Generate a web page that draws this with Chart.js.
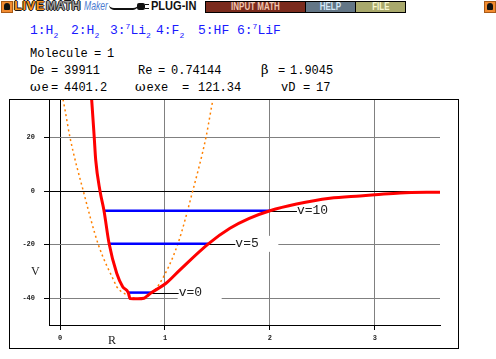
<!DOCTYPE html>
<html>
<head>
<meta charset="utf-8">
<script src="https://cdn.jsdelivr.net/npm/chart.js@4.4.1/dist/chart.umd.min.js"></script>
<style>
body{margin:0;background:#fff;width:496px;height:359px;position:relative;overflow:hidden;}
.t{position:absolute;white-space:nowrap;font-family:"Liberation Mono",monospace;font-size:12px;line-height:12px;color:#000;}
.t .g{font-family:"DejaVu Serif",serif;font-size:13px;line-height:0;margin-right:1px;}
.b{color:#1a1aff;font-size:13px;line-height:13px;}
.b sub,.b sup{font-size:8px;line-height:0;}
.hd{position:absolute;top:-1px;font-family:"Liberation Sans",Arial,sans-serif;font-weight:bold;font-size:13px;line-height:13px;white-space:nowrap;transform-origin:left top;}
.ol{text-shadow:-1px 0 #1a1a1a,1px 0 #1a1a1a,0 -1px #1a1a1a,0 1px #1a1a1a;}
.btn{position:absolute;top:1px;height:10px;border:1px solid #000;font-family:"Liberation Sans",Arial,sans-serif;font-weight:bold;font-size:10px;line-height:10px;text-align:center;overflow:hidden;}
.btn span{display:inline-block;transform:scaleX(0.8);}
.ico{position:absolute;top:1px;width:10px;height:10px;background:#f28b30;border:1px solid #a85a18;}
.ico:after{content:"";position:absolute;left:2px;top:1px;width:6px;height:7px;background:#111;border-radius:3px 3px 1px 1px;}
#box{position:absolute;left:9px;top:99px;width:448px;height:248px;border:1px solid #000;}
.ax{position:absolute;font-family:"Liberation Serif",serif;font-size:12px;line-height:12px;color:#222;}
</style>
</head>
<body>
<!-- plug-in toolbar -->
<div class="ico" style="left:1px"></div>
<span class="hd ol" style="left:14px;letter-spacing:0.5px;color:#f7941e">LIVE</span>
<span class="hd ol" style="left:46px;color:#9c9c9c;transform:scaleX(0.94)">MATH</span>
<span class="hd" style="left:84px;font-weight:normal;font-style:italic;color:#4b7bd0;transform:scaleX(0.66)">Maker</span>
<div style="position:absolute;left:109px;top:5px;width:29px;height:3px;border-bottom:2px solid #111;border-radius:0 0 12px 12px"></div>
<div style="position:absolute;left:137px;top:3px;width:8px;height:7px;background:#111;border-radius:2px"></div>
<div style="position:absolute;left:145px;top:4px;width:4px;height:1px;background:#111"></div>
<div style="position:absolute;left:145px;top:8px;width:4px;height:1px;background:#111"></div>
<span class="hd" style="left:151px;color:#111;transform:scaleX(0.85)">PLUG-IN</span>
<div class="btn" style="left:205px;width:99px;background:#7b2b1d;color:#f0c6b0"><span>INPUT MATH</span></div>
<div class="btn" style="left:305px;width:49px;background:#637686;color:#d4e6f6"><span>HELP</span></div>
<div class="btn" style="left:355px;width:49px;background:#a9a96c;color:#f6f6cc"><span>FILE</span></div>
<div class="ico" style="left:484px"></div>

<!-- molecule picker and constants -->
<span class="t b" style="left:30px;top:24px">1:H<sub>2</sub></span>
<span class="t b" style="left:71px;top:24px">2:H<sub>2</sub></span>
<span class="t b" style="left:110px;top:24px">3:<sup>7</sup>Li<sub>2</sub></span>
<span class="t b" style="left:156px;top:24px">4:F<sub>2</sub></span>
<span class="t b" style="left:198px;top:24px">5:HF</span>
<span class="t b" style="left:237px;top:24px">6:<sup>7</sup>LiF</span>

<span class="t" style="left:30px;top:48px">Molecule</span>
<span class="t" style="left:94px;top:48px">=</span>
<span class="t" style="left:107px;top:48px">1</span>

<span class="t" style="left:30px;top:65px">De</span>
<span class="t" style="left:51px;top:65px">=</span>
<span class="t" style="left:64px;top:65px">39911</span>
<span class="t" style="left:138px;top:65px">Re</span>
<span class="t" style="left:158px;top:65px">=</span>
<span class="t" style="left:171px;top:65px">0.74144</span>
<span class="t" style="left:261px;top:65px"><span class="g">β</span></span>
<span class="t" style="left:278px;top:65px">=</span>
<span class="t" style="left:290px;top:65px">1.9045</span>

<span class="t" style="left:30px;top:82px"><span class="g">ω</span>e</span>
<span class="t" style="left:51px;top:82px">=</span>
<span class="t" style="left:64px;top:82px">4401.2</span>
<span class="t" style="left:135px;top:82px"><span class="g">ω</span>exe</span>
<span class="t" style="left:182px;top:82px">=</span>
<span class="t" style="left:198px;top:82px">121.34</span>
<span class="t" style="left:281px;top:82px">vD</span>
<span class="t" style="left:303px;top:82px">=</span>
<span class="t" style="left:316px;top:82px">17</span>

<div id="box"><canvas id="pot" width="448" height="248"></canvas></div>
<span class="ax" style="left:31px;top:265px">V</span>
<span class="ax" style="left:108px;top:334px">R</span>

<script>
// potential curve (R in angstrom, V in 1000 cm-1)
const redR = [0.296, 0.302, 0.326, 0.340, 0.381, 0.419, 0.467, 0.540, 0.597, 0.650, 0.667, 0.740, 0.800, 0.825, 0.873, 1.010, 1.143, 1.413, 1.619, 1.803, 2.000, 2.254, 2.571, 2.857, 3.000, 3.240, 3.620];
const redV = [37, 33.9, 20, 11.6, 0, -7.35, -19.5, -30.7, -35.7, -37.9, -40.1, -40.2, -40.0, -39.3, -37.9, -34.4, -29.4, -19.7, -13.9, -10.2, -7.35, -4.85, -2.7, -1.8, -1.4, -0.7, -0.4];

// harmonic approximation (dotted)
const harmR = [0.020, 0.048, 0.095, 0.222, 0.365, 0.524, 0.540, 0.640, 0.744, 0.850, 0.952, 1.120, 1.264, 1.390, 1.438, 1.465];
const harmV = [36, 30.2, 20, 0, -20, -34.4, -35.7, -38.8, -40.2, -38.8, -34.3, -20, 0, 20, 30.2, 36];

// vibrational levels
const levelV = [0, 5, 10];
const levelE = [-37.9, -19.7, -7.35];
const levelR1 = [0.650, 0.467, 0.419];
const levelR2 = [0.873, 1.413, 2.000];

const xTicks = [0, 1, 2, 3];
const yTicks = [-40, -20, 0, 20];

function toPoints(xs, ys) {
    return xs.map(function(x, i) { return {x: x, y: ys[i]}; });
}

let datasets = [];
datasets.push({
    label: 'V(R)',
    data: toPoints(redR, redV),
    borderColor: '#ff0000',
    borderWidth: 3,
    pointRadius: 0,
    cubicInterpolationMode: 'monotone'
});
for (let i = 0; i < levelV.length; i++) {
    datasets.push({
        label: 'v=' + levelV[i],
        data: toPoints([levelR1[i], levelR2[i]], [levelE[i], levelE[i]]),
        borderColor: '#0000ff',
        borderWidth: 2.5,
        pointRadius: 0
    });
}
datasets.push({
    label: 'harmonic',
    data: toPoints(harmR, harmV),
    borderColor: '#ff8000',
    borderWidth: 1.5,
    borderDash: [2, 3],
    pointRadius: 0,
    cubicInterpolationMode: 'monotone'
});

// "v=n" tags at the right end of each level
const levelLabels = {
    id: 'levelLabels',
    beforeDatasetsDraw(chart) {
        const ctx = chart.ctx;
        const xs = chart.scales.x, ys = chart.scales.y;
        ctx.save();
        ctx.font = '13px "Liberation Mono"';
        ctx.textBaseline = 'middle';
        for (let i = 0; i < levelV.length; i++) {
            const x0 = xs.getPixelForValue(levelR2[i]);
            const y0 = ys.getPixelForValue(levelE[i]);
            const tx = x0 + 27;
            ctx.fillStyle = '#fff';
            ctx.fillRect(tx - 1, y0 - 8, 44, 16);
            ctx.strokeStyle = '#000';
            ctx.lineWidth = 1;
            ctx.beginPath();
            ctx.moveTo(x0, Math.round(y0) + 0.5);
            ctx.lineTo(tx, Math.round(y0) + 0.5);
            ctx.stroke();
            ctx.fillStyle = '#222';
            ctx.fillText('v=' + levelV[i], tx, y0);
        }
        ctx.restore();
    }
};

function gridColor(c) {
    return c.tick && c.tick.value === 0 ? '#000' : '#808080';
}
const tickFont = {family: 'Liberation Mono', size: 7, weight: 'bold'};

new Chart(document.getElementById('pot'), {
    type: 'line',
    data: {datasets: datasets},
    options: {
        responsive: false,
        animation: false,
        layout: {padding: {left: 0, right: 18, top: 0, bottom: 0}},
        plugins: {legend: {display: false}, tooltip: {enabled: false}},
        scales: {
            x: {
                type: 'linear',
                min: -0.105,
                max: 3.62,
                afterBuildTicks: function(s) { s.ticks = xTicks.map(v => ({value: v})); },
                afterFit: function(s) { s.height = 23; s.paddingLeft = 0; s.paddingRight = 0; },
                grid: {color: gridColor, tickLength: 5, tickColor: '#000'},
                border: {color: '#000'},
                ticks: {font: tickFont, color: '#222', padding: 4, maxRotation: 0}
            },
            y: {
                type: 'linear',
                min: -50,
                max: 34,
                afterBuildTicks: function(s) { s.ticks = yTicks.map(v => ({value: v})); },
                afterFit: function(s) { s.width = 39; s.paddingTop = 0; s.paddingBottom = 0; },
                grid: {color: gridColor, tickLength: 5, tickColor: '#000'},
                border: {color: '#000'},
                ticks: {font: tickFont, color: '#222', padding: 9}
            }
        }
    },
    plugins: [levelLabels]
});
</script>
</body>
</html>
